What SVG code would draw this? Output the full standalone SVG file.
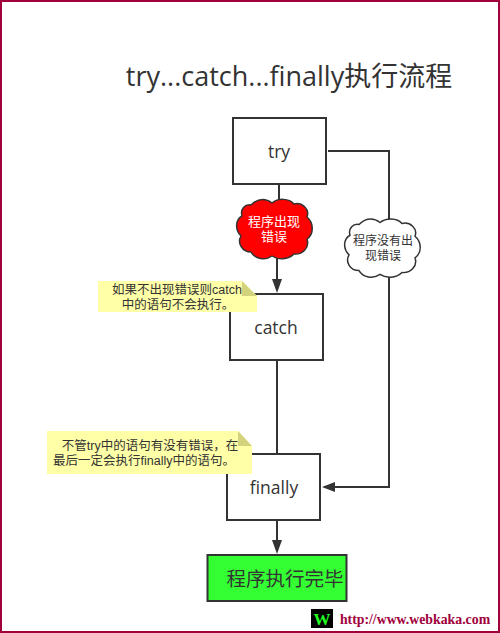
<svg xmlns="http://www.w3.org/2000/svg" width="500" height="633" viewBox="0 0 500 633">
<style>
text{font-family:"Open Sans","Noto Sans CJK SC",sans-serif;fill:#333;text-anchor:middle}
.box{fill:#fff;stroke:#333;stroke-width:2}
.conn{fill:none;stroke:#333;stroke-width:2}
.note{fill:#ffffa8}
.fold{fill:#d3d37e}
.t{font-size:17.500px}
.n,.c{font-family:"Liberation Sans","Noto Sans CJK SC",sans-serif}
.n{font-size:12.500px}
.c{font-size:12px}
.e{font-size:13px;fill:#fff}
.wm{font-family:"Liberation Serif",serif;font-weight:bold}
</style>
<defs>
<path id="cloud" d="M-24-24C-16-32-8-30-3-26C3-31 14-31 19-25C27-27 35-20 32-12C39-6 39 5 32 10C35 19 27 26 19 25C13 31 3 31-3 27C-10 32-20 30-24 23C-33 23-38 14-34 7C-40 1-40-9-33-13C-35-20-30-25-24-24Z"/>
</defs>
<rect x="1" y="1" width="498" height="631" fill="#fff" stroke="#a0003c" stroke-width="2"/>
<g id="title"><text x="289" y="86" style="font-size:27px">try...catch...finally执行流程</text></g>
<g id="connectors">
<path class="conn" d="M279 184V205"/>
<path d="M277 232V280" class="conn"/><path d="M272 279H282L277 293Z" fill="#333"/>
<path class="conn" d="M328 151H389V220"/>
<path class="conn" d="M389 276V487H324"/><path d="M335 482V492L322 487Z" fill="#333"/>
<path class="conn" d="M277 360V454"/>
<path class="conn" d="M277 520V541"/><path d="M272 540H282L277 554Z" fill="#333"/>
</g>
<g id="try"><rect class="box" x="233" y="118" width="93" height="66"/><text class="t" x="279" y="158">try</text></g>
<g id="cloud-error"><use href="#cloud" transform="translate(275,229)" fill="#f00" stroke="#333" stroke-width="1.500"/><text class="c e" x="274" y="226">程序出现</text><text class="c e" x="274" y="241">错误</text></g>
<g id="cloud-ok"><use href="#cloud" transform="translate(383,248) scale(1,0.98)" fill="#fff" stroke="#333" stroke-width="1.500"/><text class="c" x="383" y="245">程序没有出</text><text class="c" x="383" y="260">现错误</text></g>
<g id="catch"><rect class="box" x="230" y="294" width="93" height="66"/><text class="t" x="276" y="334">catch</text></g>
<g id="finally"><rect class="box" x="227" y="454" width="93" height="66"/><text class="t" x="274" y="494">finally</text></g>
<g id="end"><rect x="207.500" y="555" width="139" height="46" fill="#33ff33" stroke="#333" stroke-width="2"/><text x="285" y="586" style="font-size:19.500px">程序执行完毕</text></g>
<g id="note-catch"><path class="note" d="M98 281H242L257 296V312H98Z"/><path class="fold" d="M242 281L257 296H242Z"/><text class="n" x="177" y="294">如果不出现错误则catch</text><text class="n" x="178" y="309">中的语句不会执行。</text></g>
<g id="note-finally"><path class="note" d="M47 431H238L252 446V474H47Z"/><path class="fold" d="M238 431L252 446H238Z"/><text class="n" x="150" y="450">不管try中的语句有没有错误，在</text><text class="n" x="144" y="465">最后一定会执行finally中的语句。</text></g>
<g id="watermark"><rect x="311" y="609" width="22" height="19" fill="#000"/><text class="wm" x="322" y="625" style="font-size:17px;fill:#2f2">W</text><text class="wm" x="415" y="624" style="font-size:13.800px;fill:#a0003c">http://www.webkaka.com</text></g>
</svg>
